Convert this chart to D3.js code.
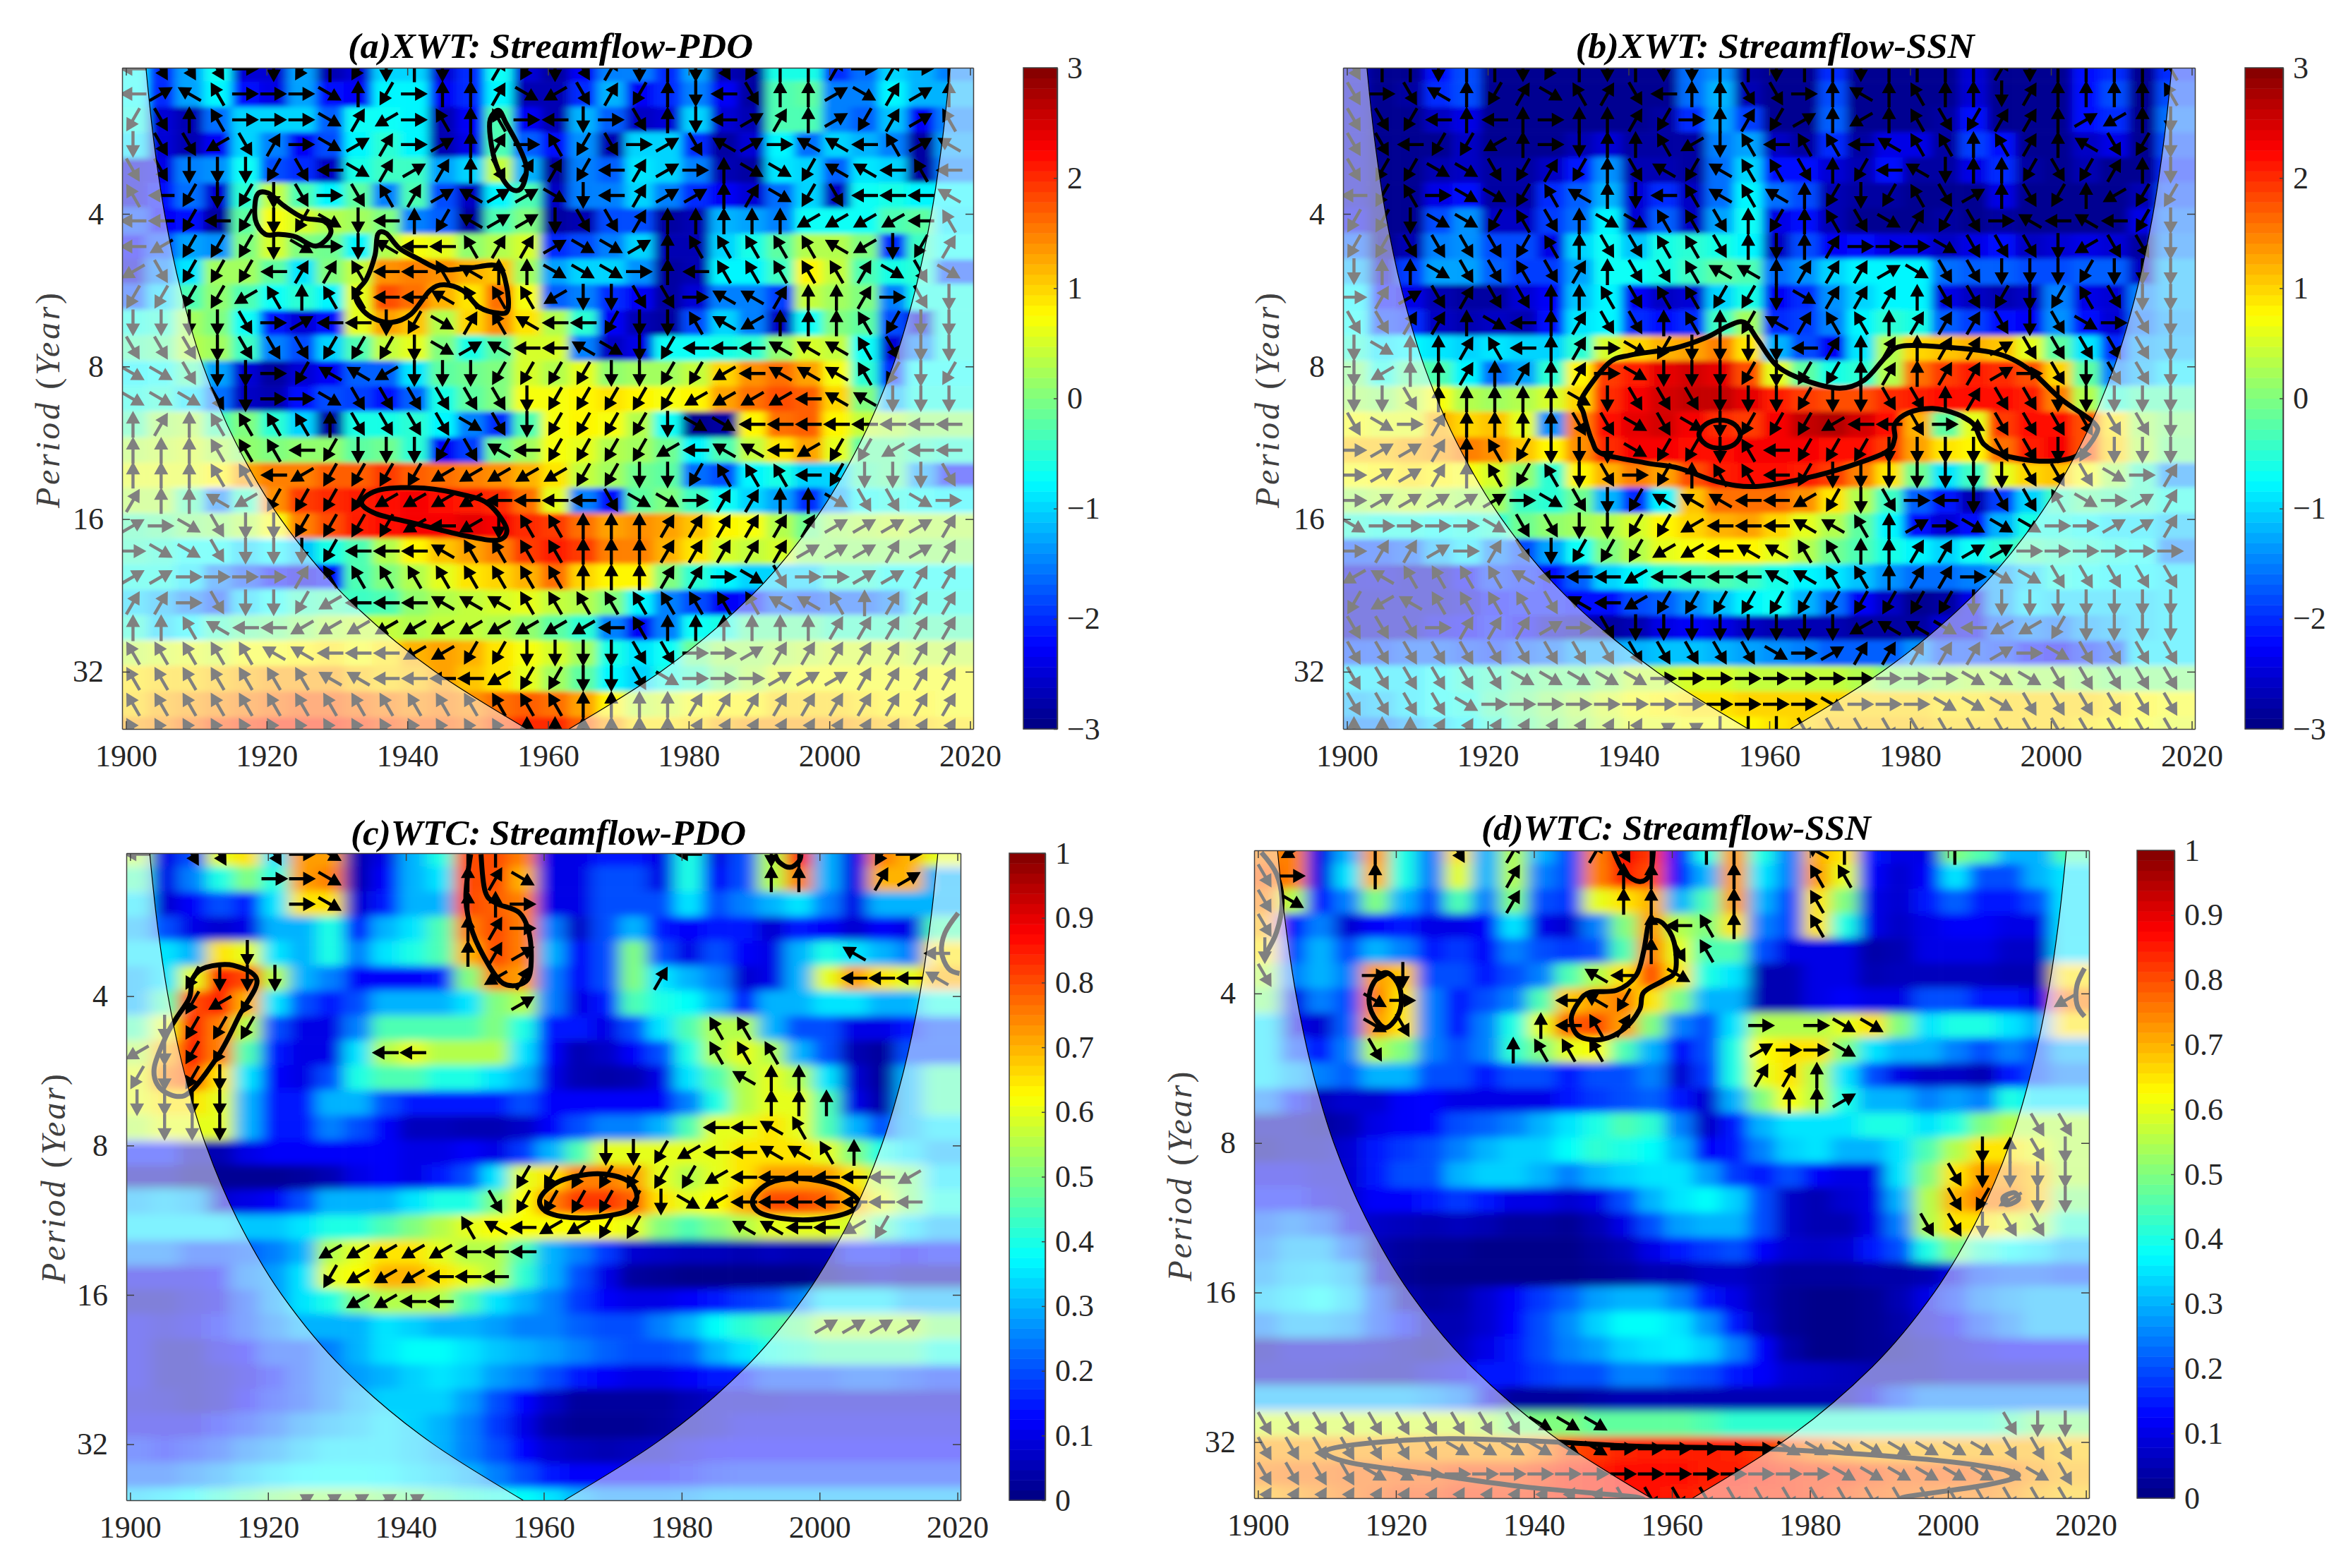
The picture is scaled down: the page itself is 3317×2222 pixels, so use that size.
<!DOCTYPE html>
<html>
<head>
<meta charset="utf-8">
<style>
  body { margin: 0; background: #fff; }
  text { font-family: "Liberation Serif", "Times New Roman", serif; fill: #262626; }
</style>
<script src="https://d3js.org/d3.v7.min.js"></script>
</head>
<body>
<svg id="chart" width="3317" height="2222"></svg>
<script>
// arrow columns and rows of the wavelet grid
var years = [1901,1905,1909,1913,1917,1921,1925,1929,1933,1937,1941,1945,1949,1953,1957,1961,1965,1969,1973,1977,1981,1985,1989,1993,1997,2001,2005,2009,2013,2017];
var periods = [2.07,2.32,2.61,2.92,3.28,3.68,4.13,4.64,5.2,5.84,6.56,7.36,8.26,9.27,10.4,11.7,13.1,14.7,16.5,18.5,20.8,23.4,26.2,29.4,33,37.1,41.6];

var xTicks = [1900,1920,1940,1960,1980,2000,2020];
var yTicks = [4,8,16,32];
var xwtTicks = [-3,-2,-1,0,1,2,3];
var wtcTicks = [0,0.1,0.2,0.3,0.4,0.5,0.6,0.7,0.8,0.9,1];

// cone of influence: distance from the record ends per period
var coiPeriods = [2,2.83,4,5.66,8,11.3,16,22.6,32,41.5];
var coiSpans = [2.75,3.9,5.5,7.8,11,15.6,22,31,44,57];

// (a) XWT Streamflow-PDO
var heatA = [
[-.7,-2,-1.3,-.7,-2.5,-2.5,-1.3,-2.7,-2.5,-1,-1,-2.5,-2,-.7,-2.5,-2.8,-2.3,-1.5,-1.5,-2,-1.3,-2.7,-2.8,-.6,-.6,-2,-1.6,-1,-1.2,-1.5],
[-.7,-2,-1.3,-.8,-2.2,-2.4,-1.3,-2.2,-2.3,-.8,-.8,-2.3,-2,-.8,-2.7,-2.7,-2,-1.2,-2.3,-2,-1.5,-2.3,-2.8,-.3,-.2,-1.5,-1.5,-.8,-1.2,-1.2],
[-.6,-2.5,-2.7,-1.6,-1,-1,-1,-1.7,-.7,-.7,-.8,-2.7,-2.3,-.3,-2.3,-2.7,-1.2,-1.7,-2.6,-2.5,-1,-2.5,-2.7,-.3,-.3,-1.5,-1.7,-1.1,-2.3,-1.5],
[-.9,-2.5,-2.7,-2.3,-1,-1.5,-2.3,-1.8,-.8,-.5,-.8,-2.7,-2.4,-.3,-1.7,-2.2,-1.4,-2.7,-1,-1,-2,-2.8,-2.5,-.8,-1.6,-1,-1.2,-1.5,-2.8,-1.3],
[-2.5,-2.4,-1.5,-1.4,-.7,-1.8,-2,-2.6,-.6,-.4,-.4,-1.3,-1,.4,-1.2,-2.8,-1.5,-1.7,-.9,-1,-1.5,-2.7,-2.8,-.9,-1,-1.7,-.9,-1,-2.8,-1.5],
[-2.5,-2.2,-1.6,-2.5,-.5,.4,-.3,-.8,-.2,-1.5,-.3,-1.8,-2.6,-.8,-.3,-2.6,-1.5,-1.5,-1,-1.5,-2,-2.3,-2.5,-1.6,-1,-2.6,-.7,-.6,-.8,-.8],
[-1.8,-2.3,-2.2,-2.8,-.2,.7,.5,.3,.2,0,-1.5,-1.7,-2.8,-.3,0,-2.8,-2.7,-1.8,-1.8,-2.8,-2.7,-1.2,-1.3,-1.5,-.7,-.7,-.7,-.3,-.2,-.9],
[-2.3,-1.8,-1.3,-1.4,0,.5,0,-.1,-.8,.3,.7,.6,.1,.3,.5,-2,-1.8,-1.5,-1,-2.7,-2.7,-1,-.6,-.2,.3,.3,0,-2,-.4,-.7],
[-2.5,-1.5,-.9,.2,.2,-.2,-.9,0,.4,1.4,1.5,1.4,1.2,1.1,.2,-1.3,-1,-1,-1.4,-2.8,-2.7,-.8,-.8,-.4,.8,.4,-.3,-.6,-.5,-1.8],
[-1.8,-1,-.3,.1,-.3,-.7,-.5,-.8,.6,1.8,1.6,1.2,.9,1.6,.7,-1.7,-1.5,-2,-2.3,-2.8,-2.5,-1.5,-1.5,-1.9,.4,.2,0,-1.5,-.6,-.6],
[-.6,-.5,.2,0,-.7,-2.1,-2.5,-2.2,.6,1.3,1.1,.3,1,1.4,.9,.3,-.5,-2.3,-2.7,-2.8,-1.8,-1,-1.5,-2.6,-.7,0,-.2,-1.8,-2.5,-.6],
[-.3,-.2,.3,.2,-.4,-1.5,-1.8,-1,-.3,.4,.6,0,-.6,-.2,.5,.5,-1.5,-2.6,-2.4,-.7,-.7,-.6,-.5,.1,.5,.4,-.7,-2.5,-1.5,-.6],
[-.8,-.7,-.3,-1.3,-2.5,-2.8,-2.5,-2.3,-1.7,-1.7,-.9,-.2,-.1,0,.5,.3,.6,.1,.2,.2,.4,1,1.4,1.6,1.3,.7,-.5,-2,-.7,-.7],
[-.6,-.5,-.9,-1.6,-2.6,-2.7,-2.2,-1.8,-1.9,-2.2,-1.7,-.6,-.2,0,.7,.7,.8,.9,.8,.7,.8,1.3,1.6,1.8,1.7,1,0,-1.2,-.6,-.6],
[-.3,.2,.3,-.3,0,-.5,-1,-2.8,-.6,-.6,-.5,-.8,-1.5,-2,-.3,.7,.8,.7,.3,-.7,-2.9,-2.8,.8,1.6,1.7,.8,.4,.3,.1,.1],
[.3,.4,.5,.3,.1,0,.1,.1,-.2,-.1,-.5,-2.3,-1.9,-.1,.2,.7,.6,.3,.2,-.1,-.8,-.3,.4,.9,1.3,.6,-.2,-.2,-.4,-.5],
[.6,.6,.6,.8,1.3,1.5,1.5,1.7,1.7,1.9,1.7,1.6,1.5,1.4,1.2,.9,.4,.2,-.1,-.2,-1.6,-1.8,-.8,-.6,-1,-1,-.3,-.2,-1.3,-2.2],
[.3,.3,-.3,-1.5,-.4,1.4,1.9,2,2.1,2.2,2.3,2.2,2.1,2,1.6,.6,-1.5,-2.2,-.2,0,-.4,-.7,-1,-1.3,-2,-1.3,-.7,-.6,-.7,-.8],
[-.3,-.2,0,.1,.3,.7,1.5,1.8,2.1,2.2,2.3,2.3,2.4,2.3,2,1.9,1.6,1.3,1.4,1.3,1.1,.8,.7,.3,-.1,.2,.3,.4,.3,.3],
[-.4,-.5,-.7,-.7,-1,-.8,-1.1,-.6,-.3,.3,.8,1.1,1.3,1.5,1.9,2.1,1.9,1.5,1.5,1.2,.9,.5,.4,.5,.1,.1,.1,.1,.1,.1],
[-.6,-.6,-.9,-1.5,-1.8,-2.2,-2.4,-2.2,-.3,0,.3,.6,.9,1,1.2,1.6,1,.8,.8,0,-.5,-.8,-1,-1,-1,-.5,-.5,-.7,-.7,-.7],
[-1,-1.2,-1.5,-1.8,-1,-.7,-.4,-.3,-.4,-.3,.1,.3,.4,.5,.6,.4,.3,0,-.8,-1.5,-1.8,-2.3,-2.2,-1.7,-1.8,-1.7,-1.7,-1.5,-.6,-.6],
[-.5,-1,-.8,-.4,-.2,-.1,.1,.3,.4,.4,.3,.4,.4,.3,.1,-.2,-.5,-1.5,-2.3,-1.5,-.7,-.6,-.2,-.2,-.2,-.4,-.4,-.4,-.3,-.3],
[.4,.5,.6,.5,.7,.7,.8,.9,.7,.9,1.2,1.3,1.2,.9,.7,.5,.2,-.6,-.9,-.7,-.1,.2,.2,.3,.4,.5,.5,.5,.4,.4],
[.9,1,1,1.1,1.2,1.3,1.3,1.3,1.1,1,1.1,1.3,1.1,.9,.6,.2,-.2,-.8,-1,-.6,-.4,0,.3,.6,.7,.7,.7,.7,.7,.7],
[1,1.2,1.3,1.4,1.5,1.6,1.7,1.7,1.6,1.5,1.4,1.5,1.4,1.6,1.7,1.6,1.3,.8,.4,.5,.7,.8,.8,1,1,1,.9,.8,.8,.7],
[1.3,1.4,1.6,1.8,1.9,2,2,2,1.9,1.8,1.7,1.7,1.6,1.8,2,2,1.7,1.3,.9,.9,1,1.2,1.3,1.3,1.3,1.3,1.2,1.1,1,.9]
];
// phase arrow direction as a clock hour, 12 = up, 0 = not drawn
var phaseA = [
[9,5,5,5,3,6,7,12,7,6,12,6,12,1,7,6,5,1,6,12,6,5,7,12,12,1,3,1,3,12],
[9,2,10,11,3,3,3,4,12,7,3,12,12,1,4,8,5,1,7,12,6,9,5,12,12,2,4,1,2,12],
[7,5,12,11,3,3,3,4,1,8,3,11,12,11,3,9,6,3,5,12,6,9,2,1,12,2,7,1,2,11],
[6,5,5,8,5,1,3,4,2,1,3,2,12,1,3,11,7,5,3,2,5,10,2,3,10,10,9,11,2,10],
[5,5,6,6,6,7,5,9,4,1,2,1,12,5,1,1,7,9,1,2,3,12,4,4,7,10,10,9,11,9],
[11,9,7,6,7,6,5,3,5,11,1,2,10,2,2,4,6,9,1,2,2,12,1,4,7,5,9,9,9,10],
[9,9,7,9,7,6,7,4,6,9,12,7,10,2,2,6,5,5,1,12,12,12,12,12,8,8,8,8,9,11],
[9,8,7,7,7,6,4,3,6,10,9,9,11,1,1,2,4,4,2,12,11,11,11,11,11,10,8,6,7,1],
[8,5,7,7,7,9,1,1,11,9,9,11,10,12,12,4,4,4,3,12,9,11,11,11,11,11,1,4,5,4],
[7,7,7,7,8,11,12,11,11,9,9,10,11,11,11,8,6,6,5,5,3,10,10,1,12,12,1,3,5,6],
[6,6,6,6,5,3,2,9,9,6,7,4,1,11,10,9,9,7,6,6,11,10,8,12,12,12,11,7,6,6],
[5,5,5,6,5,5,5,7,7,7,6,4,2,10,9,9,10,4,6,7,9,9,9,10,10,10,11,5,6,6],
[4,4,5,6,6,3,7,10,10,8,6,6,6,7,7,7,7,6,6,7,7,8,9,10,10,10,11,7,6,7],
[4,4,4,5,6,3,3,4,5,5,5,5,5,5,6,7,7,7,7,7,8,8,8,8,9,10,10,6,6,6],
[12,1,12,11,11,11,11,12,5,5,5,5,4,5,6,7,7,7,7,6,4,4,9,9,9,9,9,9,9,9],
[12,12,12,11,11,11,9,7,6,6,6,7,5,10,9,7,7,7,7,8,9,10,10,9,8,7,7,8,9,9],
[12,12,12,11,11,9,8,7,7,7,7,8,8,8,8,8,7,7,6,6,7,11,11,11,9,7,6,6,6,5],
[1,12,12,10,8,7,7,7,7,8,8,8,8,9,9,9,9,5,4,4,3,1,1,12,12,4,5,5,4,3],
[2,3,4,5,6,6,7,7,7,7,8,9,8,6,11,11,12,12,12,1,1,1,1,1,1,2,2,2,2,1],
[3,4,4,5,6,6,6,7,9,9,9,10,11,11,11,11,12,12,12,1,1,1,1,1,2,2,2,1,2,1],
[2,2,3,3,3,3,1,11,11,11,11,11,11,11,11,11,12,12,12,1,1,3,4,5,3,3,2,2,1,1],
[1,1,3,5,6,6,7,8,9,9,9,10,10,10,11,11,11,11,11,11,11,11,11,10,10,11,12,1,1,1],
[12,12,11,10,9,9,8,8,8,8,8,8,8,8,8,8,8,9,11,12,12,12,12,12,12,1,1,1,1,1],
[11,11,11,11,11,10,10,9,9,9,8,8,7,7,6,6,6,6,5,5,3,3,2,1,1,1,1,1,1,1],
[11,11,11,11,11,11,11,10,10,9,9,9,9,8,7,7,6,6,5,4,3,3,3,2,2,2,1,1,1,1],
[11,11,11,11,11,11,11,11,11,11,11,11,11,11,11,11,12,12,12,12,1,1,1,1,1,1,1,1,1,1],
[11,11,11,11,11,11,11,11,11,11,11,11,11,11,12,12,12,12,12,12,1,1,1,1,1,1,1,1,1,1]
];

// (b) XWT Streamflow-SSN
var heatB = [
[-2.6,-2.9,-2.9,-2.2,-1.8,-2.9,-2.9,-2.9,-2.9,-2.9,-2.9,-2.9,-1.6,-1.4,-2.8,-2.9,-2.9,-2,-2.9,-2.9,-2.9,-2.9,-2.5,-2.9,-2.9,-2.9,-2.2,-2,-2.9,-2],
[-2.6,-2.9,-2.8,-2,-1.8,-2.9,-2.9,-2.9,-2.9,-2.9,-2.9,-2.9,-1.6,-1.2,-2.7,-2.9,-2.9,-1.8,-2.9,-2.9,-2.9,-2.9,-2.5,-2.9,-2.9,-2.9,-2.2,-1.8,-2.9,-1.8],
[-2.6,-2.9,-2.9,-2.6,-2.4,-2.9,-2.9,-2.9,-2.9,-2.9,-2.9,-2.8,-2,-1.3,-1.9,-2.9,-2.9,-1.7,-2.9,-2.9,-2.9,-2.8,-2.2,-2.9,-2.9,-2.9,-2.2,-2,-2.9,-1.6],
[-2.6,-2.9,-2.9,-2.9,-2.6,-2.9,-2.9,-2.9,-2.7,-2.5,-2.8,-2.8,-2.8,-1.5,-1.3,-2.6,-2.8,-2,-2.8,-2.4,-2.4,-2.8,-1.9,-2.2,-2.9,-2.9,-2.6,-2.4,-2.9,-1.8],
[-2.6,-2.9,-2.9,-2.7,-2.6,-2.8,-2.8,-2.6,-2.1,-1.4,-2.7,-2.7,-2.8,-1.6,-1,-2.2,-2.2,-2.5,-2.7,-2.2,-2.8,-2.8,-2.4,-2,-2.8,-2.9,-2.7,-2.9,-2.9,-2],
[-2.6,-2.9,-2.9,-2.4,-2.2,-2.8,-2.8,-2,-1.7,-1.2,-2.5,-2,-2.6,-1.6,-.8,-1.6,-1.8,-2.7,-2.8,-2.8,-2.9,-2.9,-2.9,-2.4,-2.9,-2.9,-2.9,-2.9,-2.7,-1.8],
[-2.4,-2.9,-2.9,-1.8,-1.4,-2.6,-2.6,-1.9,-1.6,-.8,-2.5,-1.7,-2.6,-1.3,-.7,-2.4,-2.2,-2.7,-2.9,-2.9,-2.9,-2.8,-2.9,-2.8,-2.9,-2.9,-2.9,-2.9,-2.4,-1.6],
[-1.7,-2.9,-2.7,-1.5,-1.4,-1.8,-1.8,-2.4,-1,-.7,-1.1,-.6,-.5,-.6,-.8,-2.6,-1.8,-2.3,-2.2,-2.4,-2.4,-2.6,-2.4,-2.2,-2.6,-2.5,-2.4,-2.5,-2.8,-1.5],
[-1.2,-2.6,-1.9,-1.3,-1.3,-1.7,-1.9,-1.9,-1.3,-.7,-.7,-.6,-.4,-.2,-.3,-1.6,-1.4,-1,-.8,-.8,-.8,-1.6,-1.7,-1.7,-1.8,-1.8,-1.7,-1.7,-2.6,-1.2],
[-.8,-2.2,-2.4,-2.7,-2.8,-2.8,-2.5,-2.3,-1.1,-.8,-2.3,-2.6,-2.5,-1,-.6,-2.3,-2,-1.4,-1,-.8,-.8,-2.4,-2.6,-2.7,-2.6,-1.5,-2.4,-2.5,-1.5,-1.2],
[-.7,-1.9,-2,-2.6,-2.7,-2.6,-2.7,-2.2,-.9,-.8,-2,-2.2,-2,-.4,.2,-2,-1.9,-1.5,-.8,-.5,-.6,-1.7,-1.9,-2.2,-2.3,-1.4,-2.2,-2.5,-1.6,-1.3],
[-.5,-.9,-.8,-.9,-1,-.9,-1,-1,-.5,.5,1,1.2,1.3,1.5,.9,-1.2,-1.8,-2.3,-.9,.3,1,1.1,1.2,1.1,.6,-.2,-.9,-2,-1.3,-1.2],
[0,-.6,-.2,-.3,-.8,-1.6,-1.3,-.5,.8,1.9,2.1,2.4,2.5,2.4,1.8,.6,-.2,-.6,-.5,.3,1.6,1.9,2.1,2,1.8,1,-.2,-1.5,-1.2,-.9],
[.2,.1,.4,.7,.3,.2,.3,.5,1,2,2.3,2.5,2.6,2.6,2.4,2.1,1.9,1.8,1.8,2,2.1,2.2,2.2,2.2,2.1,1.5,.3,-.5,-.3,-.3],
[.7,.6,.6,1.2,1,1.1,.6,-1.4,1.5,2.2,2.4,2.5,2.3,2,1.9,2.3,2.6,2.7,2.5,2.2,1.2,-.2,.6,1.9,2.2,2.2,1.8,.9,.2,0],
[1.1,1.1,1.2,1.3,1.5,1.4,1.1,.8,1.4,2,2.3,2.3,2.2,2.2,2.3,2.3,2.3,2.2,2.2,1.9,1.3,.9,.8,1.6,2.1,2.3,1.8,1,.3,-.1],
[.7,.8,.9,.8,.7,.5,.1,-.5,.8,1.2,1.5,1.3,1.8,2.1,2.2,2.2,2.1,1.9,1.5,.9,-.1,-.9,-.4,.6,1,1.1,.7,.2,-.4,-1.4],
[.2,.3,.4,.3,.2,.2,-.4,-.5,-.1,-1.2,-2,-.8,1.1,1.6,1.6,1.6,1.4,.9,.3,-.4,-1.7,-2.1,-2.7,-1.9,-1,-.4,-.2,-.3,-.4,-.6],
[-.5,-.6,-.6,-.7,-.6,-.5,-.1,.1,.2,.3,.5,.8,1,1.2,1.3,1,.6,.3,-.2,-.8,-2.2,-2.5,-2.2,-1.2,-.6,-.6,-.7,-.9,-.9,-1.1],
[-1.8,-1.8,-1.7,-1.2,-.9,-1.5,-1.8,-1.3,-.7,0,.3,.6,.7,.8,.8,.6,.3,-.1,-.3,-.6,-.8,-1,-.7,-.5,-.3,-.4,-.5,-.6,-.7,-1.5],
[-2.5,-2.5,-2.6,-2.6,-2.3,-1.9,-2,-2.2,-1.7,-1,-.8,-.5,-.4,-.3,-.4,-.6,-.8,-.9,-1.1,-1.4,-1.6,-1.6,-1.5,-1.3,-1,-.6,-.7,-.8,-.8,-.9],
[-2.6,-2.6,-2.6,-2.6,-2.5,-2.2,-2.1,-2.1,-2.2,-2.2,-1.8,-1.7,-1.4,-1.1,-.8,-.7,-1.2,-1.6,-2.3,-2.6,-2.9,-2.8,-2.4,-1.3,-.9,-1,-1,-1,-1,-.9],
[-2.6,-2.6,-2.6,-2.4,-2.3,-2.1,-2.3,-2.6,-2.7,-2.8,-2.7,-2.4,-2.3,-2.4,-2.6,-2.7,-2.7,-2.7,-2.8,-2.8,-2.8,-2.5,-2.4,-1.7,-1.5,-1.6,-1.3,-1.2,-1,-.9],
[-1.8,-1.8,-1.7,-1.7,-1.8,-1.9,-1.7,-1.6,-1.3,-1.3,-1.2,-1.1,-1.1,-1.2,-1.3,-1.4,-1.5,-1.7,-1.7,-1.7,-1.4,-1.8,-1.8,-1.9,-2.2,-2.3,-2,-1.8,-.9,-.9],
[-.9,-.9,-.9,-.7,-.5,-.4,-.2,-.1,-.1,.1,.4,.4,.5,.5,.4,.4,.4,.4,.3,.1,.1,.2,.3,.3,.2,.2,.1,0,0,0],
[-1.2,-1.1,-.9,-.7,-.6,-.3,-.1,.1,.3,.5,.7,.8,.9,.9,1,1,1,1,1,1,1,.9,.9,1,1,1,1,.9,.8,.7],
[-1.5,-1.5,-1.3,-1,-.8,-.5,-.2,0,.2,.4,.6,.6,.7,.7,.8,.9,1,1.1,1.1,1.1,1.1,1,1,1,1,1,.9,.8,.7,.6]
];
var phaseB = [
[5,12,12,6,12,12,6,7,12,6,12,6,6,12,12,6,12,12,6,12,12,12,12,1,6,12,12,12,12,11],
[5,3,5,10,12,7,1,4,11,1,5,9,12,12,5,5,3,12,10,12,11,12,12,6,1,12,12,12,12,11],
[5,5,7,9,12,9,12,3,12,12,1,7,3,12,1,7,2,12,8,12,11,5,7,1,1,12,2,8,12,6],
[5,5,9,7,7,8,12,3,6,12,12,11,8,6,11,9,11,11,9,10,11,11,12,11,1,12,10,5,7,6],
[5,7,7,4,4,5,7,1,7,12,5,10,7,10,11,11,5,12,7,9,10,6,12,12,7,5,7,1,12,6],
[9,7,11,3,4,4,7,11,10,12,6,9,11,10,11,10,12,7,6,7,11,5,2,12,5,7,12,8,7,7],
[7,7,6,4,4,7,11,5,12,4,4,11,11,5,12,7,12,11,5,4,1,7,5,3,10,9,10,9,7,6],
[7,7,5,5,5,5,7,11,12,5,5,11,11,5,12,6,12,1,3,3,3,4,5,5,5,6,8,5,5,6],
[6,12,12,4,5,5,11,5,1,12,5,5,11,10,10,12,1,1,1,2,4,5,5,6,6,6,7,6,6,6],
[3,1,2,5,1,5,5,12,12,11,5,11,11,7,7,6,4,1,1,1,12,5,5,7,6,7,11,5,6,6],
[5,5,1,1,12,4,9,12,1,5,5,12,11,12,7,10,1,11,11,12,1,1,1,5,6,5,4,3,5,6],
[6,4,12,12,1,11,9,12,1,3,4,7,6,6,6,6,9,1,12,1,12,1,1,2,5,5,5,5,5,6],
[6,8,12,12,1,12,1,12,1,3,4,6,6,6,7,6,7,7,12,1,12,1,1,2,3,5,6,5,5,6],
[6,6,5,12,12,12,12,12,4,6,5,5,5,6,6,6,7,6,6,5,5,12,1,5,5,6,6,6,6,6],
[5,4,3,1,12,12,12,12,5,5,4,5,4,6,7,7,7,8,9,9,5,3,4,5,5,5,5,5,5,6],
[3,2,2,1,12,11,7,6,6,6,4,7,7,6,11,9,7,7,7,6,6,6,6,5,5,6,7,6,6,6],
[3,2,2,1,12,11,7,11,6,5,3,7,12,11,11,9,7,6,6,6,6,6,6,6,5,5,5,4,3,1],
[3,2,2,2,2,2,3,4,5,6,7,10,10,10,9,9,8,7,6,5,3,9,6,5,5,11,4,3,2,1],
[4,3,3,3,3,4,5,5,6,6,7,7,8,9,9,9,10,10,11,12,2,3,4,4,4,3,3,2,2,1],
[3,1,1,2,3,1,5,6,7,7,7,8,8,9,10,10,11,11,12,12,1,1,2,2,3,3,3,3,3,3],
[8,10,11,11,11,11,10,9,9,9,8,9,9,9,9,10,10,11,11,12,1,1,3,4,4,5,5,5,5,5],
[7,8,10,11,11,11,11,5,10,9,8,7,7,7,7,7,7,7,7,7,7,7,6,6,6,6,6,6,6,6],
[5,5,5,3,1,1,1,2,3,5,6,6,6,6,6,6,6,6,8,10,10,4,9,8,8,7,6,6,6,6],
[5,5,5,5,5,5,5,5,5,5,5,5,5,5,5,4,3,2,1,1,1,1,1,2,3,4,5,5,5,5],
[5,5,5,5,5,5,4,4,4,4,4,3,3,3,3,3,3,3,3,3,3,3,4,4,4,5,5,5,5,5],
[5,5,5,5,4,3,3,3,3,3,3,3,3,3,3,3,3,4,3,3,3,4,4,4,5,5,5,5,5,5],
[12,12,12,1,1,1,1,1,1,1,1,2,2,6,6,6,5,5,5,5,5,5,5,5,5,5,5,5,5,5]
];

// (c) WTC Streamflow-PDO
var heatC = [
[.55,.1,.2,.6,.65,.35,.72,.72,.05,.1,.3,.4,.8,.8,.75,.1,.1,.15,.15,.1,.4,.1,.2,.55,.85,.3,.1,.75,.7,.6],
[.45,.1,.25,.4,.5,.4,.72,.75,.05,.12,.3,.35,.8,.8,.7,.1,.1,.2,.2,.1,.4,.12,.2,.55,.75,.3,.1,.7,.7,.3],
[.35,.08,.12,.2,.15,.35,.65,.65,.08,.15,.3,.3,.8,.78,.75,.1,.1,.2,.2,.2,.35,.2,.25,.3,.35,.25,.1,.3,.3,.3],
[.3,.2,.1,.08,.1,.3,.3,.4,.15,.3,.35,.45,.75,.8,.75,.25,.07,.2,.3,.15,.12,.15,.15,.08,.15,.12,.08,.12,.1,.45],
[.35,.35,.3,.65,.6,.35,.3,.4,.25,.35,.4,.45,.7,.8,.75,.3,.12,.2,.5,.2,.1,.2,.12,.1,.3,.4,.35,.3,.25,.65],
[.3,.35,.6,.85,.8,.55,.3,.25,.12,.12,.12,.15,.5,.75,.72,.25,.12,.2,.5,.35,.3,.25,.08,.1,.3,.6,.72,.65,.6,.7],
[.3,.45,.8,.85,.7,.35,.2,.15,.2,.3,.3,.3,.35,.5,.55,.25,.1,.15,.45,.4,.38,.3,.15,.3,.3,.35,.35,.3,.3,.4],
[.45,.6,.85,.75,.55,.2,.1,.1,.25,.45,.45,.45,.45,.5,.4,.15,.15,.1,.2,.35,.45,.55,.55,.3,.2,.2,.1,.1,.15,.2],
[.55,.7,.85,.75,.45,.15,.1,.1,.35,.55,.6,.55,.55,.55,.35,.12,.05,.07,.12,.2,.4,.55,.6,.55,.3,.2,.05,.03,.2,.2],
[.6,.75,.8,.65,.35,.12,.1,.2,.4,.45,.45,.4,.4,.35,.3,.1,.05,.04,.05,.1,.35,.45,.55,.6,.55,.35,.08,.03,.3,.45],
[.6,.65,.65,.6,.3,.15,.15,.3,.3,.2,.15,.15,.15,.15,.2,.12,.12,.12,.12,.12,.25,.4,.55,.6,.6,.45,.1,.04,.3,.45],
[.55,.6,.6,.6,.3,.15,.15,.25,.2,.12,.06,.06,.05,.05,.07,.12,.2,.25,.25,.3,.45,.6,.6,.65,.6,.45,.3,.2,.3,.35],
[.15,.15,.05,.05,.1,.12,.12,.12,.12,.12,.1,.1,.12,.1,.18,.3,.45,.6,.6,.6,.6,.6,.65,.65,.65,.6,.5,.4,.35,.3],
[.05,.05,.02,.02,.02,.02,.03,.05,.1,.12,.1,.15,.2,.35,.6,.65,.75,.75,.72,.6,.55,.6,.65,.72,.72,.72,.65,.55,.5,.35],
[.3,.32,.3,.08,.1,.12,.2,.3,.3,.3,.35,.4,.4,.5,.62,.75,.82,.82,.78,.65,.6,.62,.7,.8,.8,.78,.7,.6,.5,.4],
[.35,.35,.35,.35,.32,.32,.35,.4,.4,.45,.5,.55,.6,.62,.62,.62,.62,.62,.6,.5,.45,.5,.55,.6,.6,.6,.58,.45,.35,.3],
[.25,.25,.2,.2,.22,.25,.3,.55,.6,.65,.65,.6,.55,.55,.45,.3,.25,.18,.08,.07,.06,.06,.05,.06,.05,.05,.15,.15,.12,.15],
[.1,.1,.1,.12,.25,.28,.35,.6,.62,.7,.7,.65,.6,.55,.42,.3,.2,.1,.03,.02,.01,.01,.01,.01,.01,.02,.05,.07,.05,.05],
[.05,.05,.08,.1,.2,.28,.35,.4,.5,.55,.55,.55,.45,.35,.3,.25,.18,.12,.1,.1,.12,.15,.18,.2,.25,.35,.35,.35,.3,.3],
[.1,.08,.1,.15,.2,.25,.3,.3,.3,.35,.33,.3,.3,.28,.25,.25,.22,.2,.2,.25,.3,.38,.42,.45,.48,.55,.55,.55,.55,.5],
[.1,.05,.05,.1,.13,.2,.2,.25,.3,.35,.38,.38,.35,.32,.3,.28,.25,.22,.2,.2,.22,.3,.35,.4,.42,.45,.45,.45,.45,.4],
[.1,.05,.05,.07,.1,.15,.2,.25,.28,.3,.33,.35,.33,.28,.25,.2,.15,.12,.1,.1,.12,.15,.15,.2,.2,.2,.22,.22,.2,.18],
[.08,.07,.05,.07,.12,.17,.2,.25,.3,.33,.33,.33,.28,.2,.13,.07,.03,.03,.03,.03,.05,.07,.07,.07,.08,.08,.08,.08,.08,.08],
[.1,.1,.1,.15,.18,.22,.27,.3,.32,.35,.33,.3,.25,.18,.1,.04,.02,.02,.02,.03,.05,.07,.1,.1,.1,.1,.1,.1,.1,.1],
[.17,.15,.17,.2,.25,.28,.32,.35,.35,.35,.33,.3,.25,.2,.13,.08,.06,.05,.06,.07,.1,.12,.13,.13,.13,.13,.13,.13,.13,.13],
[.22,.22,.25,.28,.32,.35,.37,.38,.38,.37,.35,.33,.3,.25,.2,.15,.12,.12,.12,.13,.15,.17,.18,.18,.18,.18,.18,.18,.18,.18],
[.33,.35,.38,.42,.46,.5,.52,.52,.52,.5,.48,.45,.42,.4,.38,.35,.3,.27,.27,.27,.28,.3,.3,.3,.3,.3,.3,.3,.3,.3]
];
var phaseC = [
[9,0,5,5,0,5,3,4,0,0,0,0,12,12,0,0,0,0,0,0,9,0,0,6,12,0,0,7,3,0],
[0,0,0,0,0,3,3,4,0,0,0,0,12,1,4,0,0,0,0,0,0,0,0,12,12,0,0,1,2,0],
[0,0,0,0,0,0,3,4,0,0,0,0,12,12,3,0,0,0,0,0,0,0,0,0,0,0,0,0,0,0],
[0,0,0,0,0,0,0,0,0,0,0,0,12,1,3,0,0,0,0,0,0,0,0,0,0,0,0,0,0,0],
[0,0,0,0,6,0,0,0,0,0,0,0,12,1,2,0,0,0,0,0,0,0,0,0,0,0,10,0,0,9],
[0,0,7,6,6,6,0,0,0,0,0,0,0,8,1,0,0,0,0,1,0,0,0,0,0,0,9,9,9,10],
[0,0,7,8,7,0,0,0,0,0,0,0,0,0,2,0,0,0,0,0,0,0,0,0,0,0,0,0,0,0],
[0,6,7,7,7,0,0,0,0,0,0,0,0,0,0,0,0,0,0,0,0,11,11,0,0,0,0,0,0,0],
[8,6,7,7,0,0,0,0,0,9,9,0,0,0,0,0,0,0,0,0,0,11,11,11,0,0,0,0,0,0],
[7,6,7,6,0,0,0,0,0,0,0,0,0,0,0,0,0,0,0,0,0,0,10,12,12,0,0,0,0,0],
[6,6,6,6,0,0,0,0,0,0,0,0,0,0,0,0,0,0,0,0,0,0,0,12,12,12,0,0,0,0],
[0,6,6,6,0,0,0,0,0,0,0,0,0,0,0,0,0,0,0,0,0,9,9,10,11,0,0,0,0,0],
[0,0,0,0,0,0,0,0,0,0,0,0,0,0,0,0,0,6,6,7,8,9,9,10,10,11,12,0,0,0],
[0,0,0,0,0,0,0,0,0,0,0,0,0,0,7,7,7,7,7,7,7,8,9,9,9,9,9,9,8,0],
[0,0,0,0,0,0,0,0,0,0,0,0,0,5,7,7,7,7,7,6,4,8,9,9,9,9,9,9,9,0],
[0,0,0,0,0,0,0,0,0,0,0,0,11,10,9,8,8,7,7,0,0,0,10,10,9,9,8,7,0,0],
[0,0,0,0,0,0,0,8,8,8,8,8,9,9,9,0,0,0,0,0,0,0,0,0,0,0,0,0,0,0],
[0,0,0,0,0,0,0,7,8,8,8,9,9,9,0,0,0,0,0,0,0,0,0,0,0,0,0,0,0,0],
[0,0,0,0,0,0,0,0,8,8,9,9,0,0,0,0,0,0,0,0,0,0,0,0,0,0,0,0,0,0],
[0,0,0,0,0,0,0,0,0,0,0,0,0,0,0,0,0,0,0,0,0,0,0,0,0,2,2,2,2,0],
[0,0,0,0,0,0,0,0,0,0,0,0,0,0,0,0,0,0,0,0,0,0,0,0,0,0,0,0,0,0],
[0,0,0,0,0,0,0,0,0,0,0,0,0,0,0,0,0,0,0,0,0,0,0,0,0,0,0,0,0,0],
[0,0,0,0,0,0,0,0,0,0,0,0,0,0,0,0,0,0,0,0,0,0,0,0,0,0,0,0,0,0],
[0,0,0,0,0,0,0,0,0,0,0,0,0,0,0,0,0,0,0,0,0,0,0,0,0,0,0,0,0,0],
[0,0,0,0,0,0,0,0,0,0,0,0,0,0,0,0,0,0,0,0,0,0,0,0,0,0,0,0,0,0],
[0,0,0,0,0,0,0,0,0,0,0,0,0,0,0,0,0,0,0,0,0,0,0,0,0,0,0,0,0,0],
[0,0,0,0,0,0,2,2,2,2,2,0,0,0,0,0,0,0,0,0,0,0,0,0,0,0,0,0,0,0]
];

// (d) WTC Streamflow-SSN
var heatD = [
[.75,.75,.1,.3,.72,.4,.25,.65,.3,.55,.3,.2,.75,.88,.82,.15,.4,.72,.4,.25,.7,.65,.15,.1,.1,.5,.45,.3,.3,.45],
[.78,.75,.1,.35,.7,.4,.25,.6,.3,.55,.25,.2,.75,.85,.8,.15,.3,.72,.35,.25,.72,.6,.12,.08,.12,.35,.2,.2,.3,.35],
[.75,.55,.15,.25,.5,.3,.2,.45,.25,.5,.2,.18,.6,.65,.7,.3,.45,.72,.3,.2,.65,.5,.1,.08,.15,.22,.15,.15,.2,.35],
[.7,.15,.25,.08,.12,.15,.1,.1,.12,.35,.1,.08,.25,.5,.72,.55,.5,.65,.25,.2,.65,.4,.1,.07,.1,.12,.12,.1,.1,.35],
[.65,.2,.3,.2,.3,.25,.15,.18,.12,.25,.2,.18,.2,.45,.75,.6,.45,.45,.2,.1,.1,.1,.04,.05,.1,.1,.1,.07,.07,.35],
[.55,.25,.3,.25,.72,.68,.2,.2,.15,.2,.25,.45,.55,.65,.8,.65,.4,.35,.05,.05,.1,.1,.05,.06,.06,.06,.06,.05,.05,.65],
[.5,.1,.25,.2,.75,.65,.25,.15,.2,.25,.45,.68,.72,.75,.65,.5,.3,.3,.05,.05,.1,.12,.1,.1,.2,.2,.15,.15,.1,.75],
[.35,.1,.08,.22,.72,.65,.25,.15,.25,.4,.6,.78,.8,.72,.5,.25,.2,.35,.55,.55,.55,.6,.65,.5,.35,.4,.4,.35,.3,.65],
[.35,.2,.15,.25,.55,.5,.25,.2,.25,.42,.5,.6,.62,.45,.3,.12,.2,.4,.62,.65,.65,.5,.35,.3,.3,.25,.2,.25,.2,.3],
[.35,.3,.25,.22,.3,.3,.2,.2,.15,.2,.2,.15,.2,.2,.25,.08,.18,.4,.6,.65,.55,.35,.2,.1,.07,.07,.05,.15,.2,.25],
[.25,.15,.06,.08,.08,.12,.13,.1,.1,.1,.1,.15,.18,.2,.22,.15,.08,.3,.5,.62,.55,.4,.3,.3,.25,.28,.25,.4,.35,.35],
[.05,.05,.03,.05,.1,.12,.13,.2,.22,.25,.3,.35,.4,.45,.42,.25,.07,.15,.3,.35,.35,.35,.4,.4,.35,.4,.5,.55,.55,.55],
[.03,.05,.05,.08,.15,.18,.2,.25,.3,.33,.33,.38,.42,.4,.38,.3,.12,.15,.25,.33,.35,.3,.3,.35,.45,.55,.65,.65,.6,.55],
[.1,.1,.08,.08,.15,.2,.2,.3,.33,.33,.3,.25,.3,.33,.35,.35,.28,.18,.15,.2,.12,.1,.1,.35,.5,.65,.72,.72,.68,.55],
[.15,.15,.1,.08,.12,.12,.15,.18,.15,.1,.1,.08,.1,.2,.3,.35,.38,.33,.2,.07,.05,.08,.1,.3,.55,.7,.75,.75,.68,.5],
[.22,.25,.22,.1,.07,.06,.05,.06,.05,.03,.03,.02,.05,.1,.2,.28,.3,.3,.2,.07,.05,.05,.1,.25,.55,.65,.65,.6,.55,.42],
[.25,.3,.3,.22,.05,.03,.02,.02,.01,.01,.01,.01,.03,.05,.1,.15,.18,.2,.12,.08,.07,.08,.15,.2,.4,.5,.42,.38,.35,.3],
[.28,.32,.33,.3,.08,.02,.01,.01,.01,.01,.01,.01,.02,.03,.05,.05,.07,.07,.05,.03,.03,.03,.04,.04,.05,.1,.2,.22,.22,.2],
[.32,.35,.38,.33,.2,.05,.03,.04,.08,.12,.18,.22,.28,.3,.3,.25,.15,.1,.05,.02,.01,.01,.02,.05,.1,.18,.25,.28,.3,.3],
[.25,.3,.3,.28,.2,.15,.05,.05,.08,.13,.2,.26,.33,.38,.38,.35,.27,.15,.06,.02,.01,.01,.02,.04,.08,.12,.2,.25,.3,.3],
[.05,.08,.08,.08,.07,.05,.03,.06,.1,.15,.2,.25,.28,.33,.35,.36,.33,.25,.12,.04,.01,.01,.02,.03,.05,.08,.1,.12,.12,.12],
[.07,.07,.07,.06,.05,.05,.08,.1,.15,.15,.18,.2,.2,.25,.25,.22,.2,.15,.12,.08,.07,.06,.05,.05,.05,.07,.07,.07,.07,.07],
[.3,.3,.3,.3,.3,.3,.28,.25,.1,.03,.03,.03,.04,.05,.05,.05,.05,.05,.05,.05,.05,.05,.1,.2,.25,.25,.25,.25,.25,.25],
[.58,.58,.58,.58,.58,.58,.58,.58,.55,.5,.5,.5,.47,.47,.47,.47,.45,.42,.42,.42,.42,.42,.42,.42,.42,.42,.42,.45,.5,.5],
[.72,.72,.72,.72,.72,.72,.72,.72,.72,.72,.75,.8,.82,.84,.85,.85,.85,.84,.82,.78,.75,.72,.7,.7,.7,.7,.7,.7,.7,.68],
[.75,.76,.76,.77,.77,.78,.78,.8,.8,.8,.82,.84,.85,.86,.86,.86,.85,.85,.84,.83,.82,.82,.8,.78,.78,.78,.77,.75,.72,.7],
[.7,.72,.74,.76,.78,.8,.8,.82,.82,.82,.83,.84,.85,.86,.86,.85,.84,.84,.83,.83,.82,.8,.78,.77,.76,.75,.75,.73,.7,.68]
];
var phaseD = [
[0,8,0,0,12,0,0,5,0,1,0,0,1,5,12,0,12,12,0,0,10,12,0,0,0,12,0,0,0,0],
[5,3,0,0,12,0,0,0,0,1,0,0,0,12,12,0,0,12,0,0,11,11,0,0,0,0,0,0,0,0],
[5,4,0,0,0,0,0,0,0,1,0,0,0,12,12,0,0,12,0,0,11,0,0,0,0,0,0,0,0,0],
[5,0,0,0,0,0,0,0,0,0,0,0,0,0,12,9,11,12,0,0,11,0,0,0,0,0,0,0,0,0],
[6,0,0,0,0,0,0,0,0,0,0,0,0,0,12,5,11,0,0,0,0,0,0,0,0,0,0,0,0,0],
[5,0,0,0,3,6,0,0,0,0,0,0,10,9,0,4,0,0,0,0,0,0,0,0,0,0,0,0,0,0],
[0,0,0,0,4,3,0,0,0,0,0,9,10,7,0,0,0,0,0,0,0,0,0,0,0,0,0,0,0,8],
[0,0,0,0,4,5,0,0,0,0,12,9,11,1,0,0,0,0,3,0,3,4,4,0,0,0,0,0,0,0],
[0,0,0,0,5,0,0,0,0,12,11,11,11,0,0,0,0,0,2,3,3,4,0,0,0,0,0,0,0,0],
[0,0,0,0,0,0,0,0,0,0,0,0,0,0,0,0,0,0,1,1,12,0,0,0,0,0,0,0,0,0],
[0,0,0,0,0,0,0,0,0,0,0,0,0,0,0,0,0,0,0,12,12,2,0,0,0,0,0,0,0,0],
[0,0,0,0,0,0,0,0,0,0,0,0,0,0,0,0,0,0,0,0,0,0,0,0,0,0,0,0,5,5],
[0,0,0,0,0,0,0,0,0,0,0,0,0,0,0,0,0,0,0,0,0,0,0,0,0,0,6,12,5,6],
[0,0,0,0,0,0,0,0,0,0,0,0,0,0,0,0,0,0,0,0,0,0,0,0,0,5,6,6,6,6],
[0,0,0,0,0,0,0,0,0,0,0,0,0,0,0,0,0,0,0,0,0,0,0,0,0,5,7,8,6,6],
[0,0,0,0,0,0,0,0,0,0,0,0,0,0,0,0,0,0,0,0,0,0,0,0,5,5,6,5,5,0],
[0,0,0,0,0,0,0,0,0,0,0,0,0,0,0,0,0,0,0,0,0,0,0,0,0,0,0,0,0,0],
[0,0,0,0,0,0,0,0,0,0,0,0,0,0,0,0,0,0,0,0,0,0,0,0,0,0,0,0,0,0],
[0,0,0,0,0,0,0,0,0,0,0,0,0,0,0,0,0,0,0,0,0,0,0,0,0,0,0,0,0,0],
[0,0,0,0,0,0,0,0,0,0,0,0,0,0,0,0,0,0,0,0,0,0,0,0,0,0,0,0,0,0],
[0,0,0,0,0,0,0,0,0,0,0,0,0,0,0,0,0,0,0,0,0,0,0,0,0,0,0,0,0,0],
[0,0,0,0,0,0,0,0,0,0,0,0,0,0,0,0,0,0,0,0,0,0,0,0,0,0,0,0,0,0],
[0,0,0,0,0,0,0,0,0,0,0,0,0,0,0,0,0,0,0,0,0,0,0,0,0,0,0,0,0,0],
[5,5,5,5,5,5,5,5,5,5,4,4,4,0,0,0,0,0,0,0,0,0,0,0,0,0,0,5,6,6],
[5,5,5,5,5,5,5,4,4,4,4,4,4,3,3,3,3,3,3,4,4,4,4,4,4,4,4,5,5,5],
[5,5,5,5,4,4,3,3,3,3,3,3,3,3,3,3,3,3,3,3,3,4,4,4,4,4,4,4,4,5],
[1,1,1,1,1,1,1,1,1,1,1,1,1,5,5,5,5,5,5,5,5,5,5,5,5,5,5,5,5,5]
];

// significance contours as [year, period]
var contoursA = [
  {closed: true, pts: [[1918.6,3.68],[1920.2,3.64],[1922.5,3.86],[1925.2,4.07],[1928.2,4.14],[1929.1,4.37],[1927,4.63],[1924.1,4.44],[1921.7,4.39],[1919.8,4.39],[1918.4,4.11]]},
  {closed: true, pts: [[1935.8,4.39],[1937,4.37],[1938.9,4.68],[1941.6,4.91],[1944.8,5.15],[1948.7,5.12],[1952.8,5.07],[1954.1,5.55],[1954.3,6.18],[1953,6.28],[1950.2,6.11],[1947.9,5.67],[1945.2,5.52],[1943.2,5.67],[1940.5,6.31],[1937.7,6.55],[1935,6.41],[1933.1,6.05],[1932.7,5.73],[1934.2,5.37],[1935.4,4.83]]},
  {closed: true, pts: [[1953,2.5],[1954.1,2.66],[1955.7,2.92],[1956.9,3.22],[1956.5,3.5],[1955.5,3.6],[1954.1,3.5],[1952.6,3.19],[1951.8,2.83],[1951.8,2.6]]},
  {closed: true, pts: [[1933.5,14.8],[1936.2,14],[1942.4,13.9],[1948.6,14.4],[1951.7,15],[1954.1,16.7],[1952.9,17.6],[1948.6,17.3],[1940.9,16.3],[1935.5,15.6]]}
];
var contoursB = [
  {closed: true, pts: [[1933.3,9.27],[1937.1,7.9],[1940.2,7.6],[1946.4,7.37],[1951,7.02],[1954.2,6.65],[1956.5,6.55],[1958.4,7.1],[1961.1,7.98],[1965,8.51],[1970,8.83],[1973.5,8.51],[1976.6,7.65],[1978.9,7.29],[1985.1,7.33],[1992.1,7.53],[1996.7,8.07],[2001.4,9.27],[2006,10.3],[2006.4,10.9],[2003.7,12],[1999,12.3],[1993.6,12],[1990.5,11.4],[1989,10.4],[1986.7,9.94],[1983.2,9.68],[1979.7,9.88],[1977.8,10.4],[1977.8,11.1],[1976.6,11.8],[1971.2,12.6],[1965,13.3],[1958,13.8],[1952.6,13.5],[1947.2,12.7],[1942.5,12.4],[1936.3,11.9],[1934.8,11.2],[1933.6,9.88]]},
  {closed: true, pts: [[1953,10.2],[1955,10.4],[1955.9,10.9],[1955,11.4],[1953,11.6],[1951,11.4],[1950,10.9],[1951,10.4]]}
];
var contoursC = [
  {closed: true, pts: [[1909.1,3.68],[1911,3.5],[1915,3.47],[1918.4,3.72],[1915.9,4.36],[1913,5.21],[1909.1,6.16],[1906.8,6.37],[1904.2,6.1],[1903.5,5.57],[1905.2,4.82],[1906.8,4.41],[1908.6,4.03]]},
  {closed: false, pts: [[1949.4,2.07],[1948.7,2.55],[1949.7,2.98],[1952.1,3.48],[1954.1,3.77],[1956.5,3.79],[1958,3.6],[1958,3.05],[1956.5,2.72],[1953.1,2.6],[1951.5,2.46],[1950.9,2.07]]},
  {closed: false, pts: [[1993.5,2.07],[1994.2,2.15],[1995.7,2.2],[1997,2.14],[1997.3,2.07]]},
  {closed: true, pts: [[1959.5,10.2],[1962.4,9.43],[1967.8,9.12],[1972.2,9.43],[1973.5,10.2],[1971.7,10.9],[1965.3,11.2],[1960.5,10.9]]},
  {closed: true, pts: [[1990.3,10.3],[1992.7,9.53],[1997.1,9.32],[2002.5,9.64],[2005.7,10.4],[2003.5,11],[1997.6,11.3],[1991.8,11]]},
  {closed: false, pts: [[2020.1,2.72],[2018.2,2.98],[2017.7,3.26],[2018.7,3.52],[2020.3,3.6]]}
];
var contoursD = [
  {closed: true, pts: [[1918.5,3.63],[1920.2,3.8],[1920.8,4.12],[1920.2,4.45],[1918.5,4.69],[1916.8,4.45],[1916.1,4.12],[1916.8,3.8]]},
  {closed: false, pts: [[1951.5,2.06],[1953.1,2.28],[1955.3,2.38],[1956.8,2.3],[1957.3,2.06]]},
  {closed: true, pts: [[1957,2.85],[1958.7,2.89],[1960.3,3.15],[1960.5,3.6],[1958.7,3.77],[1955.9,3.98],[1955.3,4.31],[1953.1,4.71],[1949.8,4.95],[1946.5,4.87],[1945.4,4.5],[1946.5,4.16],[1948.1,3.98],[1952,3.94],[1954.8,3.68],[1955.9,3.29],[1956.5,2.94]]},
  {closed: false, pts: [[1900.5,2.08],[1902.7,2.3],[1903.5,2.63],[1902.7,3.01],[1901.1,3.33]]},
  {closed: false, pts: [[2019.8,3.56],[2018.7,3.85],[2018.7,4.21],[2019.8,4.45]]},
  {closed: true, pts: [[2008,10.3],[2009.6,10.07],[2010.2,10.4],[2008.5,10.65]]},
  {closed: true, pts: [[1909.9,33.3],[1916.6,32.1],[1927.7,31.5],[1941,31.9],[1954.2,32.6],[1975.3,33.1],[1994.1,34.4],[2004.1,35.6],[2010.2,37.2],[2005.7,39],[1994.1,41.2],[1989.7,42.5],[1959.8,42.5],[1954.2,41.2],[1938.7,39.4],[1925.4,37.2],[1913.3,35.2]]}
];

// MATLAB jet
var jetStops = ['#000080','#0000ff','#00ffff','#ffff00','#ff0000','#800000'];
var jetAt = d3.scaleLinear().domain([0,0.125,0.375,0.625,0.875,1]).range(jetStops).interpolate(d3.interpolateRgb).clamp(true);

var arrowShape = 'M-19,-2.2L1,-2.2L1,-10L19,0L1,10L1,2.2L-19,2.2Z';

var svg = d3.select('#chart');
var defs = svg.append('defs');

var panels = [
  {id: 'a', title: '(a)XWT: Streamflow-PDO', heat: heatA, phase: phaseA, contours: contoursA, domain: [-3,3], ticks: xwtTicks, blur: '7 3',
    left: 173, right: 1379, top: 96, bottom: 1033, barLeft: 1450, barRight: 1498, titleX: 780, titleY: 82, titleW: 574, labelX: 84, labelW: 305},
  {id: 'b', title: '(b)XWT: Streamflow-SSN', heat: heatB, phase: phaseB, contours: contoursB, domain: [-3,3], ticks: xwtTicks, blur: '7 3',
    left: 1903, right: 3110, top: 96, bottom: 1033, barLeft: 3181, barRight: 3235, titleX: 2515, titleY: 82, titleW: 565, labelX: 1812, labelW: 305},
  {id: 'c', title: '(c)WTC: Streamflow-PDO', heat: heatC, phase: phaseC, contours: contoursC, domain: [0,1], ticks: wtcTicks, blur: '11 6',
    left: 179, right: 1361, top: 1209, bottom: 2126, barLeft: 1430, barRight: 1481, titleX: 777, titleY: 1197, titleW: 560, labelX: 92, labelW: 297},
  {id: 'd', title: '(d)WTC: Streamflow-SSN', heat: heatD, phase: phaseD, contours: contoursD, domain: [0,1], ticks: wtcTicks, blur: '11 6',
    left: 1777, right: 2960, top: 1205, bottom: 2123, barLeft: 3028, barRight: 3081, titleX: 2375, titleY: 1190, titleW: 552, labelX: 1688, labelW: 297}
];

panels.forEach(drawPanel);

function drawPanel(p) {
    var x = d3.scaleLinear().domain([1899.45, 2020.45]).range([p.left, p.right]);
    var y = d3.scaleLog().base(2).domain([2.06, 41.5]).range([p.top, p.bottom]);
    var value = d3.scaleLinear().domain(p.domain).range([0, 1]);

    defs.append('clipPath').attr('id', 'clip-' + p.id).append('rect')
        .attr('x', p.left).attr('y', p.top)
        .attr('width', p.right - p.left).attr('height', p.bottom - p.top);
    defs.append('filter').attr('id', 'soften-' + p.id)
        .attr('x', '-5%').attr('y', '-5%').attr('width', '110%').attr('height', '110%')
        .append('feGaussianBlur').attr('stdDeviation', p.blur);

    var plot = svg.append('g').attr('clip-path', 'url(#clip-' + p.id + ')');

    // heat cells, first and last ones overhang so the softening does not fade the frame
    var heat = plot.append('g').attr('filter', 'url(#soften-' + p.id + ')');
    p.heat.forEach(function(row, i) {
        var top = i === 0 ? 1.7 : Math.sqrt(periods[i - 1] * periods[i]);
        var bottom = i === periods.length - 1 ? 55 : Math.sqrt(periods[i] * periods[i + 1]);
        heat.selectAll(null).data(row).enter().append('rect')
            .attr('x', function(d, j) { return x(j === 0 ? 1890 : years[j] - 2); })
            .attr('width', function(d, j) {
                var from = j === 0 ? 1890 : years[j] - 2;
                var to = j === years.length - 1 ? 2030 : years[j] + 2;
                return x(to) - x(from) + 0.5;
            })
            .attr('y', y(top))
            .attr('height', y(bottom) - y(top) + 0.5)
            .attr('fill', function(d) { return jetAt(value(d)); });
    });

    // significance contours
    var contourLine = d3.line()
        .x(function(d) { return x(d[0]); })
        .y(function(d) { return y(d[1]); });
    plot.selectAll('path.contour').data(p.contours).enter().append('path')
        .attr('class', 'contour')
        .attr('d', function(c) {
            return contourLine.curve(c.closed ? d3.curveCardinalClosed.tension(0) : d3.curveCardinal.tension(0))(c.pts);
        })
        .attr('fill', 'none').attr('stroke', '#000').attr('stroke-width', 7);

    // phase arrows
    var arrowCells = [];
    p.phase.forEach(function(row, i) {
        row.forEach(function(h, j) {
            if (h > 0) arrowCells.push({year: years[j], period: periods[i], hour: h});
        });
    });
    plot.selectAll('path.arrow').data(arrowCells).enter().append('path')
        .attr('class', 'arrow')
        .attr('d', arrowShape)
        .attr('fill', '#000')
        .attr('transform', function(d) {
            return 'translate(' + x(d.year) + ',' + y(d.period) + ') rotate(' + (d.hour * 30 - 90) + ')';
        });

    // cone of influence, whitened outside
    var coiLeft = coiPeriods.map(function(v, i) { return [1900 + coiSpans[i], v]; });
    var coiRight = coiPeriods.map(function(v, i) { return [2020 - coiSpans[i], v]; }).reverse();
    var coiLine = d3.line()
        .x(function(d) { return x(d[0]); })
        .y(function(d) { return y(d[1]); })
        .curve(d3.curveMonotoneY);
    var frame = 'M' + p.left + ',' + p.top + 'H' + p.right + 'V' + p.bottom + 'H' + p.left + 'Z';
    plot.append('path')
        .attr('d', frame + coiLine(coiLeft) + 'L' + coiLine(coiRight).slice(1) + 'Z')
        .attr('fill', '#fff').attr('fill-opacity', 0.5).attr('fill-rule', 'evenodd');
    plot.selectAll('path.coi').data([coiLeft, coiRight]).enter().append('path')
        .attr('class', 'coi').attr('d', coiLine)
        .attr('fill', 'none').attr('stroke', '#000').attr('stroke-width', 1.2);

    // axes, ticks inside on all four sides
    var axisG = svg.append('g').attr('class', 'axes');
    axisG.append('g').attr('transform', 'translate(0,' + p.bottom + ')')
        .call(d3.axisBottom(x).tickValues(xTicks).tickSizeInner(-11).tickSizeOuter(0).tickPadding(22).tickFormat(d3.format('d')));
    axisG.append('g').attr('transform', 'translate(0,' + p.top + ')')
        .call(d3.axisTop(x).tickValues(xTicks).tickSizeInner(-11).tickSizeOuter(0).tickFormat(''));
    axisG.append('g').attr('transform', 'translate(' + p.left + ',0)')
        .call(d3.axisLeft(y).tickValues(yTicks).tickSizeInner(-11).tickSizeOuter(0).tickPadding(26).tickFormat(d3.format('d')));
    axisG.append('g').attr('transform', 'translate(' + p.right + ',0)')
        .call(d3.axisRight(y).tickValues(yTicks).tickSizeInner(-11).tickSizeOuter(0).tickFormat(''));
    axisG.selectAll('text').style('font-size', '44px').attr('fill', '#262626');
    axisG.selectAll('path,line').attr('stroke', '#404040').attr('stroke-width', 1.5);

    // colorbar
    var bar = d3.scaleLinear().domain(p.domain).range([p.bottom, p.top]);
    var barSteps = d3.range(64);
    var stepH = (p.bottom - p.top) / barSteps.length;
    svg.append('g').selectAll('rect').data(barSteps).enter().append('rect')
        .attr('x', p.barLeft).attr('width', p.barRight - p.barLeft)
        .attr('y', function(d) { return p.bottom - (d + 1) * stepH; })
        .attr('height', stepH + 0.5)
        .attr('fill', function(d) { return jetAt((d + 0.5) / barSteps.length); });
    var barFormat = function(v) { return String(v).replace('-', '\u2212'); };
    var barAxis = svg.append('g').attr('transform', 'translate(' + p.barRight + ',0)')
        .call(d3.axisRight(bar).tickValues(p.ticks).tickSizeInner(-5).tickSizeOuter(0).tickPadding(14).tickFormat(barFormat));
    barAxis.selectAll('text').style('font-size', '44px').attr('fill', '#262626');
    barAxis.selectAll('path,line').attr('stroke', '#404040').attr('stroke-width', 1.5);
    svg.append('rect').attr('x', p.barLeft).attr('y', p.top)
        .attr('width', p.barRight - p.barLeft).attr('height', p.bottom - p.top)
        .attr('fill', 'none').attr('stroke', '#404040').attr('stroke-width', 1.5);

    // title
    svg.append('text')
        .attr('x', p.titleX).attr('y', p.titleY)
        .attr('text-anchor', 'middle')
        .attr('textLength', p.titleW).attr('lengthAdjust', 'spacingAndGlyphs')
        .style('font-size', '50px').style('font-weight', 'bold').style('font-style', 'italic')
        .style('fill', '#000')
        .text(p.title);

    // y label
    var labelY = (p.top + p.bottom) / 2 + 3;
    var label = svg.append('text')
        .attr('transform', 'translate(' + p.labelX + ',' + labelY + ') rotate(-90)')
        .attr('text-anchor', 'middle')
        .attr('textLength', p.labelW).attr('lengthAdjust', 'spacing')
        .style('font-size', '48px').style('fill', '#404040');
    label.append('tspan').style('font-style', 'italic').text('Period ');
    label.append('tspan').text('(');
    label.append('tspan').style('font-style', 'italic').text('Year');
    label.append('tspan').text(')');
}
</script>
</body>
</html>
